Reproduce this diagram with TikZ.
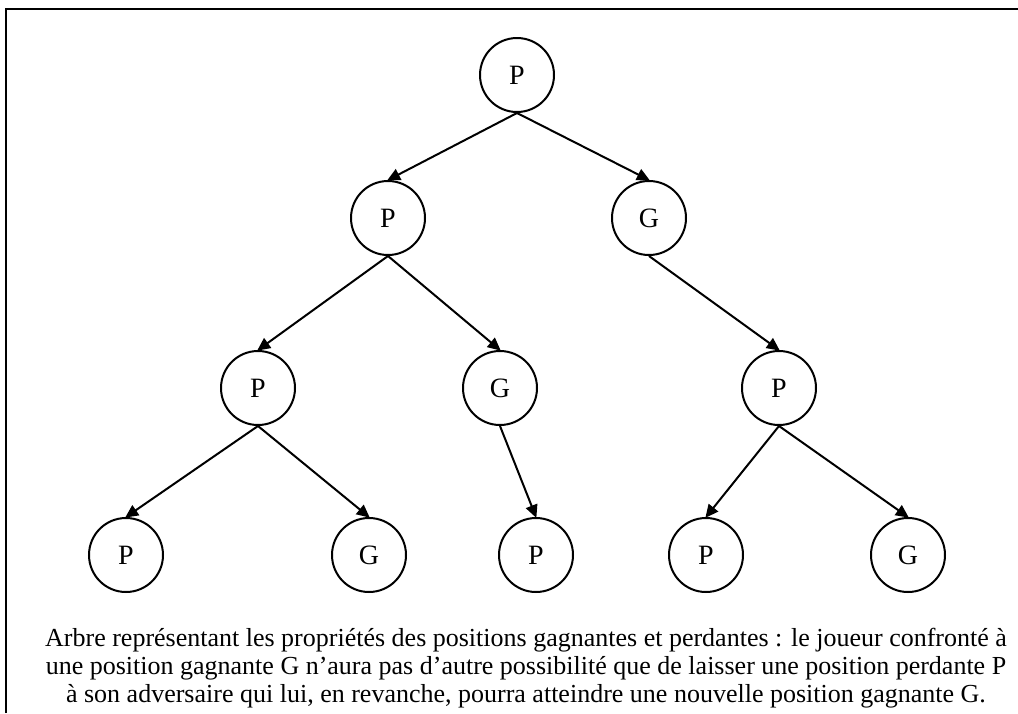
\documentclass[tikz,border=0pt]{standalone}
\usepackage{fontspec}
\setmainfont{Liberation Serif}
\usetikzlibrary{arrows.meta}
\begin{document}
\begin{tikzpicture}[x=1pt,y=-1pt,
  posnode/.style={circle,draw,line width=2pt,minimum size=74pt,inner sep=0pt,font=\fontsize{28}{30}\selectfont},
  edgeline/.style={line width=2pt,-{Triangle[length=13pt,width=12pt]},shorten >=-1pt}]
\useasboundingbox (0,0) rectangle (1018,713);
\draw[line width=2.2pt] (6,713) -- (6,9) -- (1018,9);
\node[posnode] (r) at (517,75) {P};
\node[posnode] (a) at (388,218) {P};
\node[posnode] (b) at (649,218) {G};
\node[posnode] (aa) at (258,388) {P};
\node[posnode] (ab) at (500,388) {G};
\node[posnode] (ba) at (779,388) {P};
\node[posnode] (aaa) at (126,555) {P};
\node[posnode] (aab) at (369,555) {G};
\node[posnode] (aba) at (536,555) {P};
\node[posnode] (baa) at (706,555) {P};
\node[posnode] (bab) at (908,555) {G};
\draw[edgeline] (r.south) -- (a.north);
\draw[edgeline] (r.south) -- (b.north);
\draw[edgeline] (a.south) -- (aa.north);
\draw[edgeline] (a.south) -- (ab.north);
\draw[edgeline] (b.south) -- (ba.north);
\draw[edgeline] (aa.south) -- (aaa.north);
\draw[edgeline] (aa.south) -- (aab.north);
\draw[edgeline] (ab.south) -- (aba.north);
\draw[edgeline] (ba.south) -- (baa.north);
\draw[edgeline] (ba.south) -- (bab.north);
\node[align=center,inner sep=0pt,font=\fontsize{26}{28}\selectfont] (cap) at (526,668) {Arbre représentant les propriétés des positions gagnantes et perdantes : le joueur confronté à\\une position gagnante G n’aura pas d’autre possibilité que de laisser une position perdante P\\à son adversaire qui lui, en revanche, pourra atteindre une nouvelle position gagnante G.};
\end{tikzpicture}
\end{document}
